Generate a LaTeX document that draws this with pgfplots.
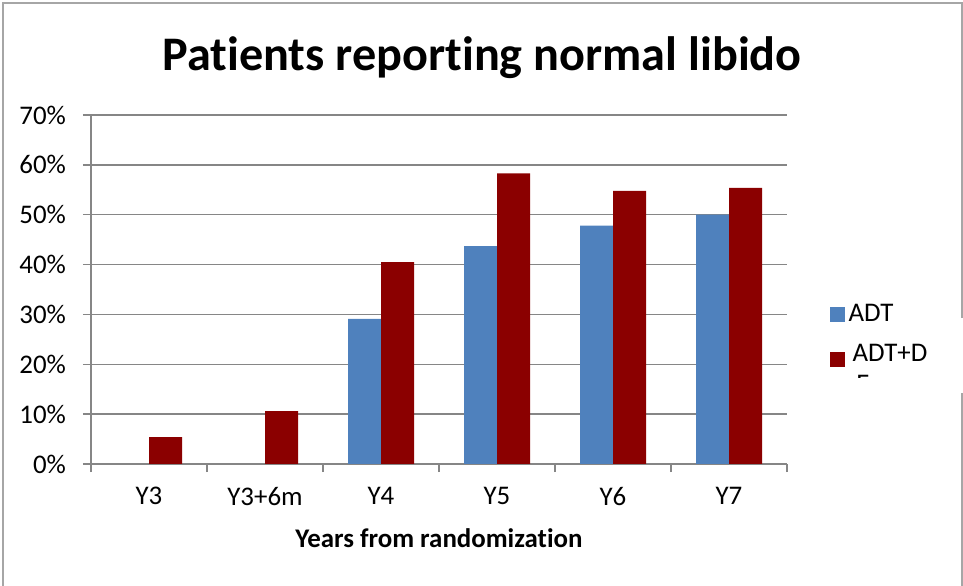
\documentclass[border=0pt]{standalone}
\usepackage{pgfplots}
\pgfplotsset{compat=1.18}
\usepackage{fontspec}
\setmainfont{Carlito}[Ligatures=NoCommon]
\definecolor{adtblue}{HTML}{4F81BD}
\definecolor{adtred}{HTML}{8B0000}
\definecolor{gridgray}{HTML}{868686}
\definecolor{framegray}{HTML}{A6A6A6}
\begin{document}
\begin{tikzpicture}
\path[use as bounding box] (0,0) rectangle (481.5bp,293bp);
\draw[framegray, line width=0.75bp] (1.5bp,0) -- (1.5bp,291.5bp) -- (481bp,291.5bp) -- (481bp,134bp);
\draw[framegray, line width=0.75bp] (481bp,96.5bp) -- (481bp,0);
\begin{axis}[
  at={(45.5bp,61bp)}, anchor=south west,
  scale only axis, width=348bp, height=174.5bp,
  xmin=-0.5, xmax=5.5, ymin=0, ymax=70,
  ybar=0pt, bar width=16.5bp,
  axis x line*=bottom, axis y line*=left,
  axis line style={gridgray, line width=0.75bp, -},
  xtick={0,1,2,3,4,5}, xticklabels={Y3,Y3+6m,Y4,Y5,Y6,Y7},
  major x tick style={draw=none},
  minor xtick={-0.5,0.5,1.5,2.5,3.5,4.5,5.5},
  minor x tick style={gridgray, line width=0.75bp},
  minor tick length=4bp,
  ytick={0,10,20,30,40,50,60,70},
  yticklabel={\pgfmathprintnumber{\tick}\%},
  ymajorgrids, grid style={gridgray, line width=0.75bp},
  tick align=outside, major tick length=4bp,
  major y tick style={gridgray, line width=0.75bp},
  /pgf/number format/assume math mode=true,
  tick label style={font=\fontsize{13.5}{16}\selectfont},
  yticklabel style={xshift=-5bp},
  xticklabel style={yshift=-4bp},
  title={Patients reporting normal libido},
  title style={font=\bfseries\fontsize{24.2}{29}\selectfont, at={(0.5,1)}, anchor=base, yshift=16.5bp, xshift=21.5bp},
  xlabel={Years from randomization},
  xlabel style={font=\bfseries\fontsize{13.5}{16}\selectfont, at={(0.5,0)}, anchor=base, yshift=-41.5bp},
  legend style={draw=none, fill=none, at={(axis description cs:1.052,0.358)}, anchor=west, font=\fontsize{13.5}{16}\selectfont, row sep=6bp},
  legend cell align=left,
  legend image code/.code={\fill[#1] (0bp,-3.75bp) rectangle (7.5bp,3.75bp);},
]
\addplot[fill=adtblue, draw=none] coordinates {(2,29.1) (3,43.7) (4,47.8) (5,50.0)};
\addplot[fill=adtred, draw=none] coordinates {(0,5.4) (1,10.6) (2,40.5) (3,58.3) (4,54.8) (5,55.4)};
\legend{ADT, \raisebox{4.5bp}{\hspace{2bp}ADT+D}}
\end{axis}
\begin{scope}
\clip (420bp,104bp) rectangle (440bp,112bp);
\node[anchor=north west, inner sep=0pt, font=\fontsize{13.5}{16}\selectfont] at (428bp,105.5bp) {E};
\end{scope}
\end{tikzpicture}
\end{document}
